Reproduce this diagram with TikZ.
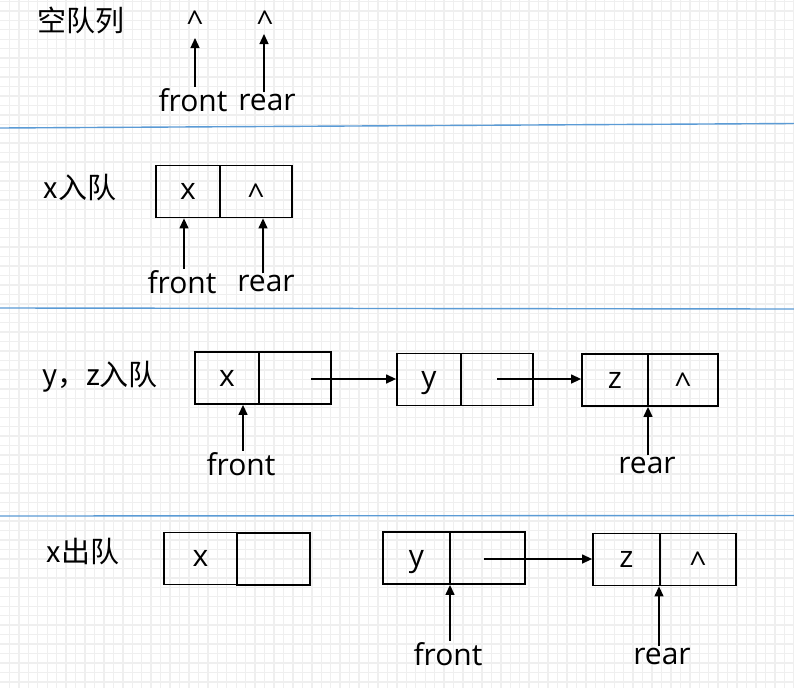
\documentclass[tikz,border=0pt]{standalone}
\usepackage{fontspec}
\setmainfont{Open Sans}
\newfontfamily\cjk{Noto Sans CJK SC}
\usetikzlibrary{arrows.meta}
\definecolor{gridc}{HTML}{EFEFEF}
\definecolor{sepc}{HTML}{5B9BD5}
\newcommand{\nilmark}{\raisebox{-0.2em}{\textasciicircum}}
\tikzset{
  gridline/.style={gridc, line width=1.4pt},
  sepline/.style={sepc, line width=1.4pt},
  cell/.style={draw=black, line width=1.8pt, inner sep=0pt, minimum height=52pt, text height=16pt, text depth=0pt, font=\fontsize{30}{30}\selectfont},
  lbl/.style={inner sep=1pt, font=\fontsize{30}{30}\selectfont},
  title/.style={inner sep=0pt, font=\cjk\fontsize{29}{29}\selectfont},
  ptr/.style={line width=1.3pt, -{Triangle[length=10pt,width=9pt]}},
  nil/.style={inner sep=0pt, font=\fontsize{30}{30}\selectfont}
}
\begin{document}
\begin{tikzpicture}[x=1pt,y=-1pt]
\useasboundingbox (0,0) rectangle (794,688);
\fill[white] (0,0) rectangle (794,688);
% grid
\foreach \i in {0,...,84} \draw[gridline] (\i*9.45+9.4,0) -- (\i*9.45+9.4,688);
\foreach \j in {0,...,73} \draw[gridline] (0,\j*9.45+1.4) -- (794,\j*9.45+1.4);
% separators
\draw[sepline] (0,128) -- (794,123.5);
\draw[sepline] (0,308) -- (794,309);
\draw[sepline] (0,516) -- (794,515.5);

% ---- section 1
\node[title] (t1) at (81,20) {空队列};
\node[nil] (n1) at (195,22) {\textasciicircum};
\node[nil] (n2) at (265,22) {\textasciicircum};
\node[lbl, anchor=base] (f1) at (193,111) {front};
\node[lbl, anchor=base] (r1) at (267,110) {rear};
\coordinate (f1t) at (195,38);
\coordinate (r1t) at (264,34);
\draw[ptr] (f1.north -| f1t) -- (f1t);
\draw[ptr] (r1.north -| r1t) -- (r1t);

% ---- section 2
\node[title] (t2) at (80,188) {x入队};
\node[cell, minimum width=64pt] (a1) at (188,191.5) {x};
\node[cell, minimum width=72pt] (a2) at (256,191.5) {\nilmark};
\node[lbl, anchor=base] (f2) at (182,293) {front};
\node[lbl, anchor=base] (r2) at (266,291) {rear};
\draw[ptr] (f2.north -| 184,0) -- (a1.south -| 184,0);
\draw[ptr] (r2.north -| 263,0) -- (a2.south -| 263,0);

% ---- section 3
\node[title] (t3) at (100,377) {y，z入队};
\node[cell, minimum width=64pt] (b1) at (227,378) {x};
\node[cell, minimum width=72pt] (b2) at (295,378) {};
\node[cell, minimum width=64pt] (c1) at (429,379.5) {y};
\node[cell, minimum width=72pt] (c2) at (497,379.5) {};
\node[cell, minimum width=66pt] (d1) at (615,380) {z};
\node[cell, minimum width=70pt] (d2) at (683,380) {\nilmark};
\coordinate (p1) at (311,379);
\coordinate (p2) at (497,379);
\draw[ptr] (p1) -- (c1.west |- p1);
\draw[ptr] (p2) -- (d1.west |- p2);
\node[lbl, anchor=base] (f3) at (241,475) {front};
\node[lbl, anchor=base] (r3) at (647,473) {rear};
\draw[ptr] (f3.north -| 243,0) -- (b1.south -| 243,0);
\draw[ptr] (r3.north -| 648,0) -- (d1.south -| 648,0);

% ---- section 4
\node[title] (t4) at (83,552) {x出队};
\node[cell, minimum width=73pt] (e1) at (200.5,558.5) {x};
\node[cell, minimum width=73pt, line width=2.2pt] (e2) at (273.5,559) {};
\node[cell, minimum width=67pt] (g1) at (416.5,558) {y};
\node[cell, minimum width=75pt] (g2) at (487.5,558) {};
\node[cell, minimum width=67pt] (h1) at (626.5,559.5) {z};
\node[cell, minimum width=76pt] (h2) at (698,559.5) {\nilmark};
\coordinate (p3) at (484,559);
\draw[ptr] (p3) -- (h1.west |- p3);
\node[lbl, anchor=base] (f4) at (448,665) {front};
\node[lbl, anchor=base] (r4) at (662,664) {rear};
\draw[ptr] (f4.north -| 450,0) -- (g1.south -| 450,0);
\draw[ptr] (r4.north -| 659,0) -- (h1.south -| 659,0);
\end{tikzpicture}
\end{document}
